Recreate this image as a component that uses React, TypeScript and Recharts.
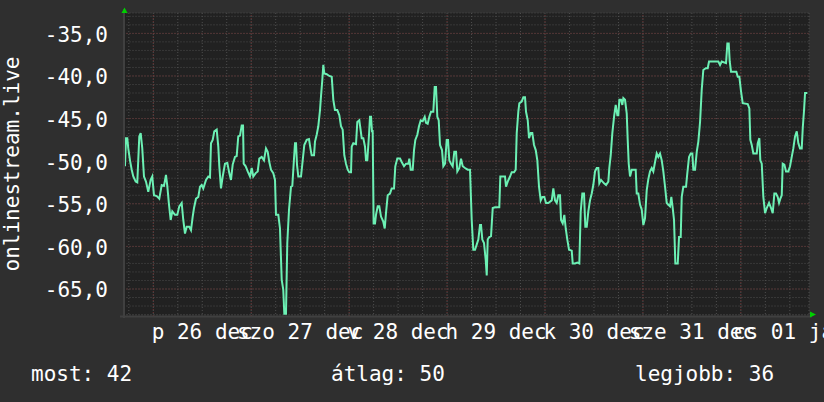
import React from 'react';
import { LineChart, Line, XAxis, YAxis, CartesianGrid, ReferenceLine } from 'recharts';

// hours counted from 26 Dec 00:00, values are the (negated) rank
const hours = [
  -6.94, -6.69, -6.37, -6.13, -5.71, -5.29, -4.9, -4.31, -3.92, -3.43, -3.09, -2.7, -2.28, -1.79, -1.23, -0.64, -0.25,
  0.17, 0.83, 1.47, 2.06, 2.62, 3.11, 3.43, 3.85, 4.26, 4.66, 5.32, 5.88, 6.37, 6.96, 7.35, 7.77, 8.19, 8.82, 9.24,
  9.66, 9.98, 10.47, 11.03, 11.45, 11.86, 12.25, 12.92, 13.48, 13.9, 14.14, 14.56, 14.95, 15.54, 15.93, 16.18, 16.59,
  17.01, 17.57, 18.14, 18.63, 19.04, 19.46, 20.02,
  20.44, 20.83, 21.25, 21.67, 21.99, 22.16, 22.65, 23.14, 23.7, 24.12, 24.51, 25.1, 25.59, 25.98, 26.57, 27.13, 27.62,
  28.04, 28.43, 28.85, 29.41, 29.83, 30.07, 30.64, 31.05, 31.47, 31.86, 32.11, 32.52, 32.84, 33.26, 33.75, 34.07,
  34.41, 34.73, 34.98, 35.22, 35.54, 36.2, 36.62, 37.01, 37.6, 38.16, 38.58, 38.82, 39.39, 39.63, 40.05, 40.44, 40.86,
  41.1, 41.42, 41.67, 41.91, 42.5, 43.14, 43.73, 44.12, 44.53, 45.1, 45.59, 46.0, 46.42, 46.81, 47.23, 47.65, 48.04,
  48.46,
  48.63, 49.02, 49.68, 50.0, 50.49, 51.08, 51.47, 51.89, 52.13, 52.45, 52.87, 53.11, 53.36, 53.6, 53.77, 54.0, 54.34,
  54.58, 55.0, 55.39, 55.81, 56.37, 56.72, 57.03, 57.45, 58.01, 58.43, 59.0, 59.31, 59.8, 60.47, 60.88, 61.45, 61.94,
  62.5, 62.75, 63.09, 63.58, 63.9, 64.22, 64.71, 65.12, 65.54, 66.03, 66.52, 66.84, 67.25, 67.65, 68.06, 68.63, 68.97,
  69.29, 69.61, 69.95, 70.27, 70.76, 71.08, 71.5, 71.91, 72.23, 72.55, 72.97, 73.38, 73.77, 74.19, 74.51, 75.0, 75.42,
  75.83, 76.4,
  77.06, 77.62, 78.04, 78.43, 78.85, 79.26, 79.66, 80.07, 80.32, 80.64, 81.05, 81.47, 81.72, 81.96, 82.35, 82.77,
  83.19, 83.75, 84.8, 85.05, 85.54, 86.2, 86.45, 86.86, 87.43, 87.84, 88.41, 88.82, 89.07, 89.46, 89.71, 90.29, 90.69,
  91.1, 91.35, 91.77, 92.08, 92.5, 92.89, 93.31, 93.73, 94.12, 94.53, 94.95, 95.34, 95.83, 96.25, 96.81, 97.65, 98.04,
  98.46, 98.87, 99.26, 99.68, 99.93, 100.34, 100.74, 101.08, 101.47, 101.89, 102.55, 102.79, 103.36, 103.92, 104.41,
  104.75, 105.15,
  105.56, 105.88, 106.23, 106.62, 107.03, 107.45, 107.84, 108.26, 108.68, 109.07, 109.31, 109.73, 110.47, 110.96,
  111.52, 111.76, 112.11, 112.5, 112.92, 113.33, 113.73, 113.97, 114.22, 114.63, 114.95, 115.2, 115.61, 116.03, 116.27,
  116.52, 116.84, 117.25, 118.23, 118.48, 118.87, 119.29, 119.71, 120.1, 120.51, 120.93, 121.32, 121.74, 122.16,
  122.55, 122.97, 123.38, 123.77, 124.19, 124.61, 125.0, 125.42, 125.83, 126.64, 126.96, 127.3, 127.62, 127.94, 128.53,
  128.85, 129.26, 129.51, 129.9, 130.56, 130.88, 131.3, 131.72, 132.11, 132.35, 132.77,
  133.19, 133.58, 134.0, 134.41, 134.8, 135.39, 135.88, 136.2, 138.48, 138.9, 139.31, 140.37, 140.69, 141.03, 141.27,
  141.59, 142.89, 143.24, 143.63, 144.04, 144.46, 145.69, 146.08, 146.32, 146.67, 147.06, 147.89, 148.14, 148.53,
  148.77, 149.12, 149.51, 149.93, 150.34, 150.91, 151.4, 151.81, 152.21, 152.62, 153.04, 153.36, 153.68, 154.02,
  154.26, 154.66, 155.07, 155.64, 156.05, 156.47, 156.86, 157.28, 157.7, 158.09, 158.5, 158.92, 159.17, 159.49,
  159.73, 160.29,
];

const rank = [
  -50.6, -47.3, -47.3, -48.5, -49.9, -51, -51.8, -52.4, -52.5, -47.1, -46.7, -48.5, -51.8, -52.4, -53.6, -52.2, -51.8,
  -54, -54.1, -54.4, -52.8, -52.9, -51.6, -52.9, -55.1, -56.9, -55.9, -56.3, -56.3, -55.3, -54.9, -56.9, -58.5, -57.7,
  -57.7, -58.1, -56.5, -55.5, -54.4, -54.2, -53, -52.8, -53.2, -52.2, -51.8, -51.9, -47.9, -47.5, -46.5, -46.3, -48.3,
  -50.6, -53.2, -51.8, -50.3, -50.2, -51.4, -52.2, -50.4, -49.5,
  -49.4, -47.1, -47, -45.8, -45.8, -50.3, -50.6, -51.2, -51.8, -50.8, -51.8, -51.4, -51.2, -49.7, -49.5, -49.9, -48.5,
  -48.9, -50.1, -51, -51.4, -52.2, -56.3, -56.3, -57.9, -63.9, -65.1, -67.9, -67.9, -59.6, -55.7, -53, -52.9, -50.3,
  -47.9, -47.9, -50.4, -51.8, -51.8, -49.9, -48.1, -47.5, -47.4, -48.7, -49.3, -49.3, -47.7, -46.9, -45.9, -44, -42.4,
  -40.5, -38.7, -39.7, -39.8, -40, -40.1, -42.8, -44, -44, -44.6, -45.9, -46.3, -49.3, -50.3, -51, -51.3, -51.3,
  -48.3, -47.9, -48, -45.4, -45.2, -47.3, -47.3, -48.3, -49.9, -49.9, -46.9, -44.8, -44.8, -46.5, -46.5, -57.3, -57.3,
  -56.3, -55.3, -55.3, -56.5, -57.1, -57.9, -56.1, -54, -53.8, -53.2, -53.2, -50.6, -49.7, -49.7, -50.1, -50.6, -50.3,
  -50.3, -49.7, -51, -51, -48.7, -47.5, -46.9, -45.9, -45.2, -45.3, -44.8, -45.5, -45.6, -44.8, -44.2, -44.2, -41.3,
  -41.3, -44.8, -45.2, -48.1, -48.7, -50.6, -50.3, -47.5, -47.5, -49.9, -50.3, -50.6, -48.9, -48.9, -51.2, -50.8,
  -49.7, -50.6, -50.8,
  -51, -51, -56.9, -60.4, -60.4, -59.8, -59.2, -57.5, -57.5, -59.2, -59.6, -61.6, -63.4, -59.2, -58.9, -58.8, -55.5,
  -55.4, -55.4, -51.8, -51.8, -51.8, -53, -52.4, -51.8, -51.3, -51.3, -51, -46.7, -44.2, -43.2, -43, -42.5, -42.5,
  -44.2, -45.2, -47.3, -46.7, -46.7, -48.1, -48.7, -49.9, -53, -54.6, -54.2, -54.2, -54.9, -54.9, -54.6, -53.2, -54.6,
  -54.9, -54, -54, -56.9, -57.3, -56.3, -57.9, -59.2, -60.4, -60.5, -62, -62, -61.9, -62, -55.9, -53.8,
  -53.8, -57.7, -57.7, -55.9, -54.6, -53.8, -52.8, -51.2, -50.8, -50.8, -52.6, -52.2, -52.6, -52.8, -52.4, -50.8,
  -49.3, -46.7, -44.8, -43.4, -44.6, -44.6, -42.8, -42.8, -43.4, -42.6, -42.8, -44.4, -47.5, -50.3, -51.8, -51, -51,
  -53.8, -53.8, -55.1, -55.7, -57.5, -56.7, -53.4, -52.1, -51.2, -50.8, -51.2, -50.1, -49.1, -49.5, -49.1, -49.9,
  -51.2, -53, -54.9, -55.3, -54.2, -55.5, -56.9, -62, -62, -58.9, -58.9, -54.2, -53, -53, -51.4, -49.5, -49.1, -49.1,
  -51, -51,
  -48.9, -47.7, -45.4, -41.6, -39.3, -39.1, -39.1, -38.3, -38.3, -38.7, -38.3, -38.5, -36.2, -36.2, -38.3, -39.5,
  -39.5, -40.1, -40.1, -41.8, -43.2, -43.3, -43.8, -47.5, -48.1, -49.1, -49.1, -47.9, -47.3, -49.9, -50.3, -54.2,
  -56.1, -55.5, -54.9, -55.5, -56.1, -53.8, -53.8, -54.2, -54.9, -54.4, -54, -50.3, -50.4, -51.2, -51.2, -50.6, -49.5,
  -48.5, -47.1, -46.5, -47.9, -48.5, -48.5, -46.1, -44, -42, -42,
];

const dayLabels = ['p 26 dec', 'szo 27 dec', 'v 28 dec', 'h 29 dec', 'k 30 dec', 'sze 31 dec', 'cs 01 jan'];
const hourTicks = [-6, 0, 6, 12, 18, 24, 30, 36, 42, 48, 54, 60, 66, 72, 78, 84, 90, 96, 102, 108, 114, 120, 126, 132, 138, 144, 150, 156];
const midnights = [0, 24, 48, 72, 96, 120, 144];
const rankTicks = [-68, -67, -66, -65, -64, -63, -62, -61, -60, -59, -58, -57, -56, -55, -54, -53, -52, -51, -50, -49, -48, -47, -46, -45, -44, -43, -42, -41, -40, -39, -38, -37, -36, -35, -34, -33];
const majorRanks = [-65, -60, -55, -50, -45, -40, -35];
const legendItems = [
  { text: 'most: 42', x: 31 },
  { text: 'átlag: 50', x: 331 },
  { text: 'legjobb: 36', x: 635 },
];

const FONT = '"DejaVu Sans Mono", monospace';
const TEXT = '#ffffff';
const BG = '#2f2f2f';
const CANVAS = '#212121';
const MINOR = '#4e4e4e';
const MAJOR = '#6e3434';
const LINE = '#6cf0b4';

const data = hours.map((h, i) => ({ h, v: rank[i] }));

const DayTick = (props: any) => {
  const h = props.payload.value;
  if (((h % 24) + 24) % 24 !== 12) return <g />;
  const label = dayLabels[Math.floor(h / 24)];
  return (
    <text x={props.x} y={338.5} textAnchor="middle" fill={TEXT} fontFamily={FONT} fontSize={21}>
      {label}
    </text>
  );
};

const RankTick = (props: any) => {
  const v = props.payload.value;
  if (v % 5 !== 0) return <g />;
  return (
    <text x={108} y={props.y + 8.5} textAnchor="end" fill={TEXT} fontFamily={FONT} fontSize={21}>
      {v.toFixed(1).replace('.', ',')}
    </text>
  );
};

export default function App() {
  return (
    <div style={{ position: 'fixed', left: 0, top: 0, width: 824, height: 402, background: BG }}>
      <LineChart width={824} height={402} data={data} margin={{ top: 13, right: 15, left: 0, bottom: 0 }}>
        <CartesianGrid stroke={MINOR} strokeDasharray="1 2" fill={CANVAS} fillOpacity={1} />
        <XAxis
          type="number"
          dataKey="h"
          domain={[-7.3, 160.7]}
          ticks={hourTicks}
          interval={0}
          allowDataOverflow
          height={86}
          axisLine={false}
          tickLine={false}
          tick={(p: any) => <DayTick {...p} />}
        />
        <YAxis
          type="number"
          domain={[-68.17, -32.61]}
          ticks={rankTicks}
          interval={0}
          allowDataOverflow
          width={123.5}
          axisLine={false}
          tickLine={false}
          tick={(p: any) => <RankTick {...p} />}
        />
        {majorRanks.map((r) => (
          <ReferenceLine key={`r${r}`} y={r} stroke={MAJOR} strokeDasharray="1 2" />
        ))}
        {midnights.map((m) => (
          <ReferenceLine key={`m${m}`} x={m} stroke={MAJOR} strokeDasharray="1 2" />
        ))}
        <Line
          type="linear"
          dataKey="v"
          stroke={LINE}
          strokeWidth={2}
          dot={false}
          isAnimationActive={false}
        />
      </LineChart>
      <svg width={824} height={402} style={{ position: 'absolute', left: 0, top: 0, pointerEvents: 'none' }}>
        <line x1={124} y1={9} x2={124} y2={318} stroke="#404040" strokeWidth={2} />
        <line x1={120} y1={316.5} x2={812} y2={316.5} stroke="#404040" strokeWidth={2} />
        <polygon points="121.5,13 127.5,13 124.5,7.5" fill="#00d000" />
        <polygon points="810,311.5 810,317.5 816,314.5" fill="#00d000" />
        <text
          x={18.5}
          y={164}
          transform="rotate(-90 18.5 164)"
          textAnchor="middle"
          fill={TEXT}
          fontFamily={FONT}
          fontSize={21}
        >
          onlinestream.live
        </text>
        {legendItems.map((it) => (
          <text key={it.text} x={it.x} y={381} fill={TEXT} fontFamily={FONT} fontSize={21}>
            {it.text}
          </text>
        ))}
      </svg>
    </div>
  );
}
